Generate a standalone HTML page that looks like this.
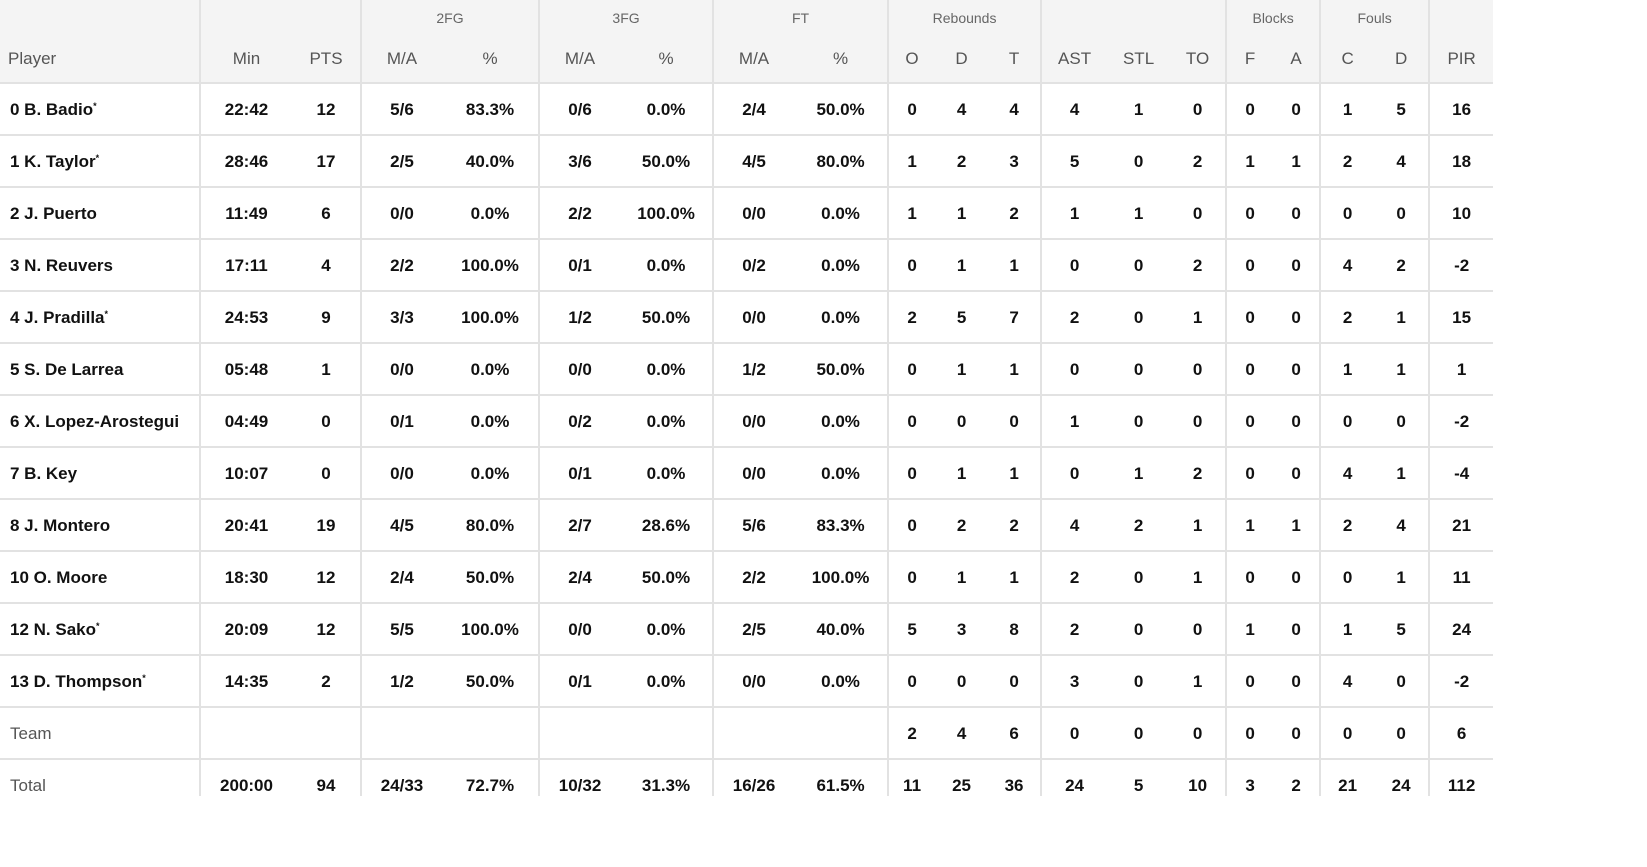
<!DOCTYPE html>
<html><head><meta charset="utf-8">
<style>
body{margin:0;background:#fff;width:1647px;height:867px;overflow:hidden;font-family:"Liberation Sans",Arial,sans-serif;}
.wrap{position:absolute;left:0;top:0;width:1493px;height:796px;overflow:hidden;}
table{border-collapse:collapse;table-layout:fixed;width:1493px;}
td,th{padding:0;text-align:center;white-space:nowrap;overflow:hidden;}
thead tr{background:#f4f4f4;}
tr.g th{height:36px;font-size:14px;font-weight:normal;color:#666;vertical-align:middle;}
tr.s th{height:46px;font-size:17px;font-weight:normal;color:#555;border-bottom:2px solid #e2e2e2;}
tbody td{height:48px;font-size:17px;font-weight:bold;color:#111;border-bottom:2px solid #e2e2e2;padding-top:2px;}
.l{border-left:2px solid #e2e2e2;}
.p{text-align:left;padding-left:8px;}
tbody td.p{padding-left:10px;}
tbody td.n{font-weight:normal;color:#555;}
sup{font-size:9px;vertical-align:6px;line-height:0;}
</style></head><body>
<div class="wrap">
<table>
<colgroup>
<col style="width:200px"><col style="width:92px"><col style="width:69px">
<col style="width:81px"><col style="width:97px">
<col style="width:81px"><col style="width:93px">
<col style="width:81px"><col style="width:94px">
<col style="width:47px"><col style="width:53px"><col style="width:53px">
<col style="width:66px"><col style="width:63px"><col style="width:56px">
<col style="width:47px"><col style="width:47px">
<col style="width:54px"><col style="width:55px">
<col style="width:64px">
</colgroup>
<thead>
<tr class="g"><th></th><th class="l" colspan="2"></th><th class="l" colspan="2">2FG</th><th class="l" colspan="2">3FG</th><th class="l" colspan="2">FT</th><th class="l" colspan="3">Rebounds</th><th class="l" colspan="3"></th><th class="l" colspan="2">Blocks</th><th class="l" colspan="2">Fouls</th><th class="l"></th></tr>
<tr class="s"><th class="p">Player</th><th class="l">Min</th><th>PTS</th><th class="l">M/A</th><th>%</th><th class="l">M/A</th><th>%</th><th class="l">M/A</th><th>%</th><th class="l">O</th><th>D</th><th>T</th><th class="l">AST</th><th>STL</th><th>TO</th><th class="l">F</th><th>A</th><th class="l">C</th><th>D</th><th class="l">PIR</th></tr>
</thead>
<tbody>
<tr><td class="p">0 B. Badio<sup>*</sup></td><td class="l">22:42</td><td>12</td><td class="l">5/6</td><td>83.3%</td><td class="l">0/6</td><td>0.0%</td><td class="l">2/4</td><td>50.0%</td><td class="l">0</td><td>4</td><td>4</td><td class="l">4</td><td>1</td><td>0</td><td class="l">0</td><td>0</td><td class="l">1</td><td>5</td><td class="l">16</td></tr>
<tr><td class="p">1 K. Taylor<sup>*</sup></td><td class="l">28:46</td><td>17</td><td class="l">2/5</td><td>40.0%</td><td class="l">3/6</td><td>50.0%</td><td class="l">4/5</td><td>80.0%</td><td class="l">1</td><td>2</td><td>3</td><td class="l">5</td><td>0</td><td>2</td><td class="l">1</td><td>1</td><td class="l">2</td><td>4</td><td class="l">18</td></tr>
<tr><td class="p">2 J. Puerto</td><td class="l">11:49</td><td>6</td><td class="l">0/0</td><td>0.0%</td><td class="l">2/2</td><td>100.0%</td><td class="l">0/0</td><td>0.0%</td><td class="l">1</td><td>1</td><td>2</td><td class="l">1</td><td>1</td><td>0</td><td class="l">0</td><td>0</td><td class="l">0</td><td>0</td><td class="l">10</td></tr>
<tr><td class="p">3 N. Reuvers</td><td class="l">17:11</td><td>4</td><td class="l">2/2</td><td>100.0%</td><td class="l">0/1</td><td>0.0%</td><td class="l">0/2</td><td>0.0%</td><td class="l">0</td><td>1</td><td>1</td><td class="l">0</td><td>0</td><td>2</td><td class="l">0</td><td>0</td><td class="l">4</td><td>2</td><td class="l">-2</td></tr>
<tr><td class="p">4 J. Pradilla<sup>*</sup></td><td class="l">24:53</td><td>9</td><td class="l">3/3</td><td>100.0%</td><td class="l">1/2</td><td>50.0%</td><td class="l">0/0</td><td>0.0%</td><td class="l">2</td><td>5</td><td>7</td><td class="l">2</td><td>0</td><td>1</td><td class="l">0</td><td>0</td><td class="l">2</td><td>1</td><td class="l">15</td></tr>
<tr><td class="p">5 S. De Larrea</td><td class="l">05:48</td><td>1</td><td class="l">0/0</td><td>0.0%</td><td class="l">0/0</td><td>0.0%</td><td class="l">1/2</td><td>50.0%</td><td class="l">0</td><td>1</td><td>1</td><td class="l">0</td><td>0</td><td>0</td><td class="l">0</td><td>0</td><td class="l">1</td><td>1</td><td class="l">1</td></tr>
<tr><td class="p">6 X. Lopez-Arostegui</td><td class="l">04:49</td><td>0</td><td class="l">0/1</td><td>0.0%</td><td class="l">0/2</td><td>0.0%</td><td class="l">0/0</td><td>0.0%</td><td class="l">0</td><td>0</td><td>0</td><td class="l">1</td><td>0</td><td>0</td><td class="l">0</td><td>0</td><td class="l">0</td><td>0</td><td class="l">-2</td></tr>
<tr><td class="p">7 B. Key</td><td class="l">10:07</td><td>0</td><td class="l">0/0</td><td>0.0%</td><td class="l">0/1</td><td>0.0%</td><td class="l">0/0</td><td>0.0%</td><td class="l">0</td><td>1</td><td>1</td><td class="l">0</td><td>1</td><td>2</td><td class="l">0</td><td>0</td><td class="l">4</td><td>1</td><td class="l">-4</td></tr>
<tr><td class="p">8 J. Montero</td><td class="l">20:41</td><td>19</td><td class="l">4/5</td><td>80.0%</td><td class="l">2/7</td><td>28.6%</td><td class="l">5/6</td><td>83.3%</td><td class="l">0</td><td>2</td><td>2</td><td class="l">4</td><td>2</td><td>1</td><td class="l">1</td><td>1</td><td class="l">2</td><td>4</td><td class="l">21</td></tr>
<tr><td class="p">10 O. Moore</td><td class="l">18:30</td><td>12</td><td class="l">2/4</td><td>50.0%</td><td class="l">2/4</td><td>50.0%</td><td class="l">2/2</td><td>100.0%</td><td class="l">0</td><td>1</td><td>1</td><td class="l">2</td><td>0</td><td>1</td><td class="l">0</td><td>0</td><td class="l">0</td><td>1</td><td class="l">11</td></tr>
<tr><td class="p">12 N. Sako<sup>*</sup></td><td class="l">20:09</td><td>12</td><td class="l">5/5</td><td>100.0%</td><td class="l">0/0</td><td>0.0%</td><td class="l">2/5</td><td>40.0%</td><td class="l">5</td><td>3</td><td>8</td><td class="l">2</td><td>0</td><td>0</td><td class="l">1</td><td>0</td><td class="l">1</td><td>5</td><td class="l">24</td></tr>
<tr><td class="p">13 D. Thompson<sup>*</sup></td><td class="l">14:35</td><td>2</td><td class="l">1/2</td><td>50.0%</td><td class="l">0/1</td><td>0.0%</td><td class="l">0/0</td><td>0.0%</td><td class="l">0</td><td>0</td><td>0</td><td class="l">3</td><td>0</td><td>1</td><td class="l">0</td><td>0</td><td class="l">4</td><td>0</td><td class="l">-2</td></tr>
<tr><td class="p n">Team</td><td class="l"></td><td></td><td class="l"></td><td></td><td class="l"></td><td></td><td class="l"></td><td></td><td class="l">2</td><td>4</td><td>6</td><td class="l">0</td><td>0</td><td>0</td><td class="l">0</td><td>0</td><td class="l">0</td><td>0</td><td class="l">6</td></tr>
<tr><td class="p n">Total</td><td class="l">200:00</td><td>94</td><td class="l">24/33</td><td>72.7%</td><td class="l">10/32</td><td>31.3%</td><td class="l">16/26</td><td>61.5%</td><td class="l">11</td><td>25</td><td>36</td><td class="l">24</td><td>5</td><td>10</td><td class="l">3</td><td>2</td><td class="l">21</td><td>24</td><td class="l">112</td></tr>
</tbody>
</table>
</div>
</body></html>
